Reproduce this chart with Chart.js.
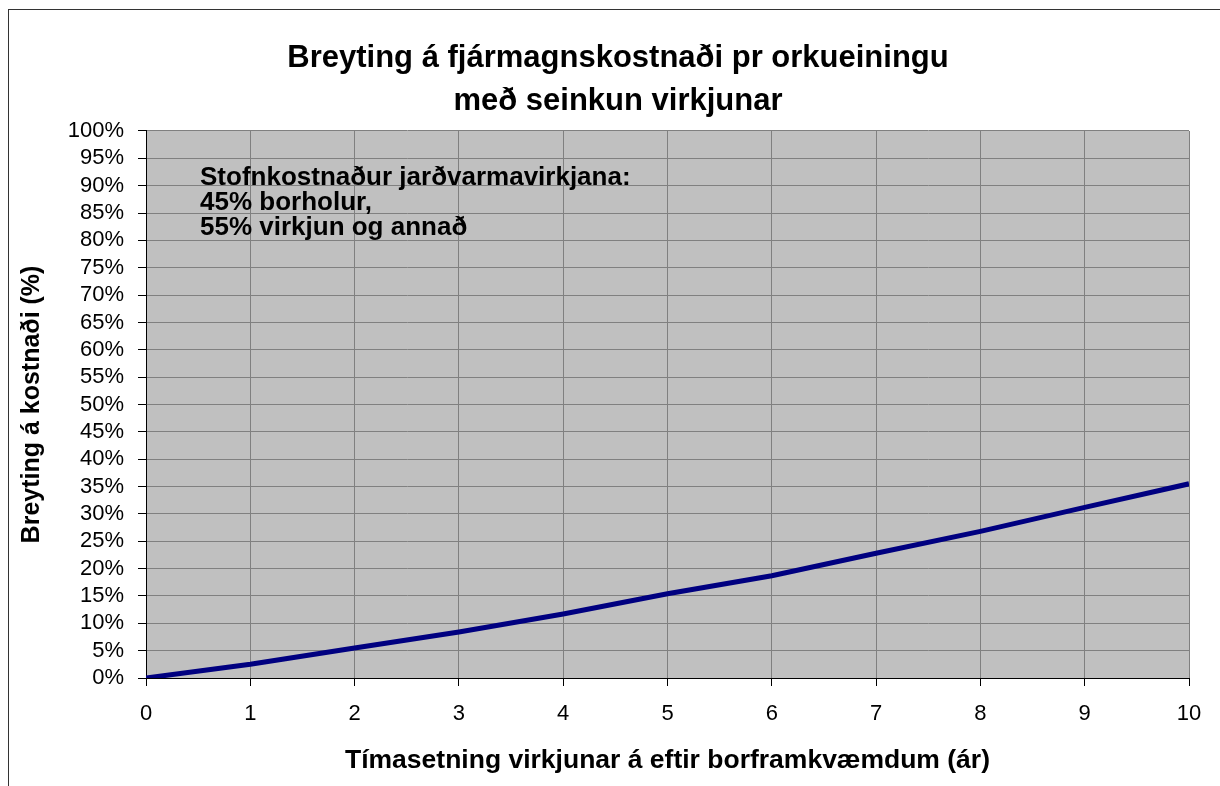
<!DOCTYPE html>
<html>
<head>
<meta charset="utf-8">
<script src="https://cdn.jsdelivr.net/npm/chart.js@4"></script>
<style>
  html, body { margin: 0; padding: 0; background: #fff; overflow: hidden; }
  #frame { position: absolute; left: 8px; top: 9px; width: 1240px; height: 800px; border: 1px solid #333; }
  /* canvas a bit wider than the window so the title centres on the frame */
  #wrap { position: absolute; left: 0; top: 0; width: 1236px; height: 786px; }
</style>
</head>
<body>
<div id="frame"></div>
<div id="wrap"><canvas id="chart"></canvas></div>
<script>
const titleLines = ['Breyting á fjármagnskostnaði pr orkueiningu', 'með seinkun virkjunar'];
const xTitle = 'Tímasetning virkjunar á eftir borframkvæmdum (ár)';
const yTitle = 'Breyting á kostnaði (%)';
const noteLines = ['Stofnkostnaður jarðvarmavirkjana:', '45% borholur,', '55% virkjun og annað'];

// years of delay and cost change in percent
const years = [0, 1, 2, 3, 4, 5, 6, 7, 8, 9, 10];
const costChange = [0, 2.5, 5.5, 8.4, 11.7, 15.4, 18.7, 22.8, 26.8, 31.2, 35.5];

const FONT = '"Liberation Sans", Arial, sans-serif';

// grey plot background + text box
const plotDecor = {
  id: 'plotDecor',
  beforeDraw(chart) {
    const { ctx, chartArea } = chart;
    ctx.save();
    ctx.fillStyle = '#C0C0C0';
    ctx.fillRect(chartArea.left, chartArea.top, chartArea.right - chartArea.left, chartArea.bottom - chartArea.top);
    ctx.restore();
  },
  afterDraw(chart) {
    const { ctx, chartArea } = chart;
    ctx.save();
    ctx.font = 'bold 26px ' + FONT;
    ctx.fillStyle = '#000';
    ctx.textBaseline = 'alphabetic';
    noteLines.forEach((line, i) => {
      ctx.fillText(line, chartArea.left + 54, chartArea.top + 54 + i * 25);
    });
    ctx.restore();
  }
};

const ctx = document.getElementById('chart').getContext('2d');
new Chart(ctx, {
  type: 'line',
  data: {
    datasets: [{
      data: years.map((x, i) => ({ x: x, y: costChange[i] })),
      borderColor: '#000080',
      borderWidth: 5,
      pointRadius: 0,
      tension: 0,
      fill: false
    }]
  },
  options: {
    responsive: true,
    maintainAspectRatio: false,
    animation: false,
    layout: { padding: 0 },
    plugins: {
      legend: { display: false },
      tooltip: { enabled: false },
      title: {
        display: true,
        text: titleLines,
        color: '#000',
        font: { family: FONT, size: 31, weight: 'bold', lineHeight: 1.387 },
        padding: { top: 36.5, bottom: 8.5 }
      }
    },
    scales: {
      x: {
        type: 'linear',
        min: 0,
        max: 10,
        ticks: { stepSize: 1, color: '#000', font: { family: FONT, size: 22 }, padding: 15, maxRotation: 0 },
        grid: { color: '#808080', lineWidth: 1, tickColor: '#000', tickLength: 8 },
        border: { color: '#000', width: 1 },
        title: {
          display: true,
          text: xTitle,
          color: '#000',
          font: { family: FONT, size: 26.5, weight: 'bold', lineHeight: 1.2 },
          padding: { top: 0, bottom: 9 }
        },
        afterFit(scale) { scale.height = 108; }
      },
      y: {
        min: 0,
        max: 100,
        ticks: {
          stepSize: 5,
          autoSkip: false,
          color: '#000',
          font: { family: FONT, size: 22 },
          padding: 14,
          callback: v => v + '%'
        },
        grid: { color: '#808080', lineWidth: 1, tickColor: '#000', tickLength: 8 },
        border: { color: '#000', width: 1 },
        title: {
          display: true,
          text: yTitle,
          color: '#000',
          font: { family: FONT, size: 25, weight: 'bold', lineHeight: 1.2 },
          padding: { top: 17, bottom: 0 }
        },
        afterFit(scale) { scale.width = 146; }
      },
      // empty right-hand margin, keeps the title centred on the whole frame
      spacer: {
        position: 'right',
        min: 0,
        max: 100,
        ticks: { display: false },
        grid: { display: false },
        border: { display: false },
        afterFit(scale) { scale.width = 47; }
      }
    }
  },
  plugins: [plotDecor]
});
</script>
</body>
</html>
